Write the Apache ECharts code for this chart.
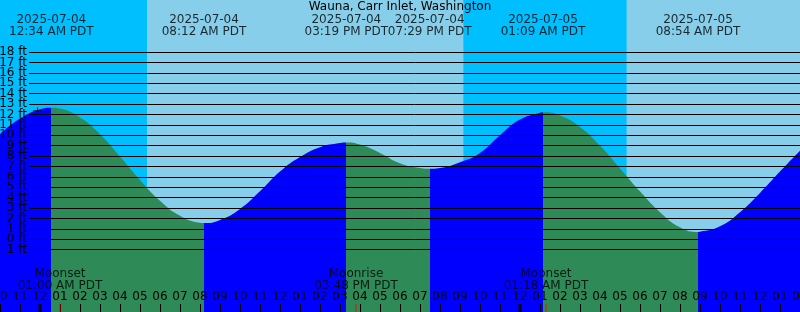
<!DOCTYPE html>
<html><head><meta charset="utf-8">
<script src="https://cdn.jsdelivr.net/npm/echarts@6/dist/echarts.min.js"></script>
<style>html,body{margin:0;padding:0;background:#87CEEB}#c{width:800px;height:312px}</style>
</head><body><div id="c"></div>
<script>
const chartTitle = 'Wauna, Carr Inlet, Washington';
// hours since 2025-07-04 00:00 PDT
const tideHours = [-2,-1,0,0.567,1,2,3,4,5,6,7,8,8.2,9,10,11,12,13,14,15,15.317,16,17,18,19,19.483,20,21,22,23,24,25,25.15,26,27,28,29,30,31,32,32.9,33,34,35,36,37,38];
const tideFeet  = [10.1,11.6,12.5,12.65,12.56,11.7,10.1,7.95,5.7,3.7,2.25,1.58,1.55,1.85,2.9,4.6,6.5,7.9,8.85,9.25,9.3,9.1,8.3,7.3,6.85,6.78,6.85,7.4,8.3,10.0,11.5,12.15,12.2,11.9,10.8,9.0,6.8,4.6,2.6,1.15,0.7,0.72,1.25,2.6,4.45,6.5,8.5];

const extremeHours = [0.567, 8.2, 15.317, 19.483, 25.15, 32.9];
const extremeKinds = ['high','low','high','low','high','low'];
const extremeDates = ['2025-07-04','2025-07-04','2025-07-04','2025-07-04','2025-07-05','2025-07-05'];
const extremeTimes = ['12:34 AM PDT','08:12 AM PDT','03:19 PM PDT','07:29 PM PDT','01:09 AM PDT','08:54 AM PDT'];

const moonHours = [1, 15.8, 25.3];
const moonNames = ['Moonset','Moonrise','Moonset'];
const moonTimes = ['01:00 AM PDT','03:48 PM PDT','01:18 AM PDT'];

const nightStarts = [-2, 21.17];
const nightEnds   = [5.35, 29.33];

const midnightHours = [0, 24];
const nowMark = [-0.125, 12.3];

const levelTicks = [-1,0,1,2,3,4,5,6,7,8,9,10,11,12,13,14,15,16,17,18];

const axisStart = -2, axisEnd = 38;

const FONT = 'DejaVu Sans';
const TOP_Y = 20.55, MOON_Y = -3.875, BASE_Y = -7, CEIL_Y = 23;

function hourLabel(v) {
  let hd = ((Math.round(v) % 24) + 24) % 24;
  let h12 = hd % 12; if (h12 === 0) h12 = 12;
  return String(h12).padStart(2, '0');
}

const tidePairs = tideHours.map((h, i) => [h, tideFeet[i]]);
const ebbPieces = [];
for (let i = 0; i < extremeHours.length - 1; i++) {
  if (extremeKinds[i] === 'high') ebbPieces.push({gte: extremeHours[i], lt: extremeHours[i + 1], color: '#2E8B57'});
}
const nightAreas = nightStarts.map((s, i) => [{xAxis: s}, {xAxis: nightEnds[i]}]);

const txt = {fontFamily: FONT, fontSize: 12, color: '#000'};

const chart = echarts.init(document.getElementById('c'), null, {renderer: 'canvas'});
chart.setOption({
  backgroundColor: '#87CEEB',
  animation: false,
  title: {text: chartTitle, left: 'center', top: 1, padding: 0,
    textStyle: Object.assign({fontWeight: 'normal'}, txt)},
  grid: [
    {left: 0, right: 0, top: 0, bottom: 0, containLabel: false, outerBoundsMode: 'none'},
    {left: 29, right: 0, top: 0, bottom: 0, containLabel: false, outerBoundsMode: 'none'}
  ],
  xAxis: [
    {gridIndex: 0, type: 'value', min: axisStart, max: axisEnd, interval: 1, z: 10, position: 'bottom',
      axisLine: {show: false, onZero: false}, splitLine: {show: false},
      axisTick: {inside: true, length: 8, lineStyle: {color: '#000', width: 1}},
      axisLabel: Object.assign({inside: true, margin: 9, formatter: hourLabel, showMinLabel: true, showMaxLabel: true, hideOverlap: false}, txt)},
    {gridIndex: 1, type: 'value', min: axisStart, max: axisEnd, show: false, axisLine: {onZero: false}}
  ],
  yAxis: [
    {gridIndex: 0, type: 'value', min: BASE_Y, max: CEIL_Y, show: false, axisLine: {onZero: false}},
    {gridIndex: 1, type: 'value', min: BASE_Y, max: CEIL_Y, show: false, axisLine: {onZero: false}}
  ],
  visualMap: {show: false, type: 'piecewise', seriesIndex: 0, dimension: 0,
    pieces: ebbPieces, outOfRange: {color: '#0000FF'}},
  series: [
    {type: 'line', xAxisIndex: 0, yAxisIndex: 0, data: tidePairs, smooth: true,
      showSymbol: false, silent: true, z: 3,
      lineStyle: {width: 0}, areaStyle: {opacity: 1, origin: 'start'},
      markArea: {silent: true, itemStyle: {color: '#00BFFF'}, data: nightAreas}},
    {type: 'line', xAxisIndex: 1, yAxisIndex: 1, data: [], silent: true, z: 8,
      markLine: {silent: true, symbol: 'none', animation: false,
        lineStyle: {color: '#000', width: 1, type: 'solid'},
        label: Object.assign({show: true, position: 'start', distance: 2,
          formatter: p => p.value + ' ft'}, txt),
        data: levelTicks.map(v => ({yAxis: v}))}},
    {type: 'scatter', xAxisIndex: 0, yAxisIndex: 0, z: 6, silent: true, clip: false,
      data: extremeHours.map(h => [h, TOP_Y]), symbolSize: 1,
      itemStyle: {color: 'rgba(0,0,0,0)'},
      label: Object.assign({show: true, position: 'inside', lineHeight: 12,
        formatter: p => extremeDates[p.dataIndex] + '\n' + extremeTimes[p.dataIndex]}, txt)},
    {type: 'scatter', xAxisIndex: 0, yAxisIndex: 0, z: 6, silent: true, clip: false,
      data: moonHours.map(h => [h, MOON_Y]), symbolSize: 1,
      itemStyle: {color: 'rgba(0,0,0,0)'},
      label: Object.assign({show: true, position: 'inside', lineHeight: 12,
        formatter: p => moonNames[p.dataIndex] + '\n' + moonTimes[p.dataIndex]}, txt)},
    {type: 'scatter', xAxisIndex: 0, yAxisIndex: 0, z: 12, silent: true, clip: false,
      data: midnightHours.map(h => [h, BASE_Y]), symbol: 'rect', symbolSize: [3, 8],
      symbolOffset: [0, -4], itemStyle: {color: '#000'}},
    {type: 'scatter', xAxisIndex: 0, yAxisIndex: 0, z: 13, silent: true, clip: false,
      data: moonHours.map(h => [h, BASE_Y]), symbol: 'rect', symbolSize: [1, 8],
      symbolOffset: [0, -4], itemStyle: {color: '#FF0000'}},
    {type: 'scatter', xAxisIndex: 0, yAxisIndex: 0, z: 12, silent: true, clip: false,
      data: [nowMark], symbol: 'path://M0,3h9v1h-9z M4,0h1v8h-1z', symbolSize: [9, 8],
      itemStyle: {color: '#000'}}
  ]
});
</script></body></html>
